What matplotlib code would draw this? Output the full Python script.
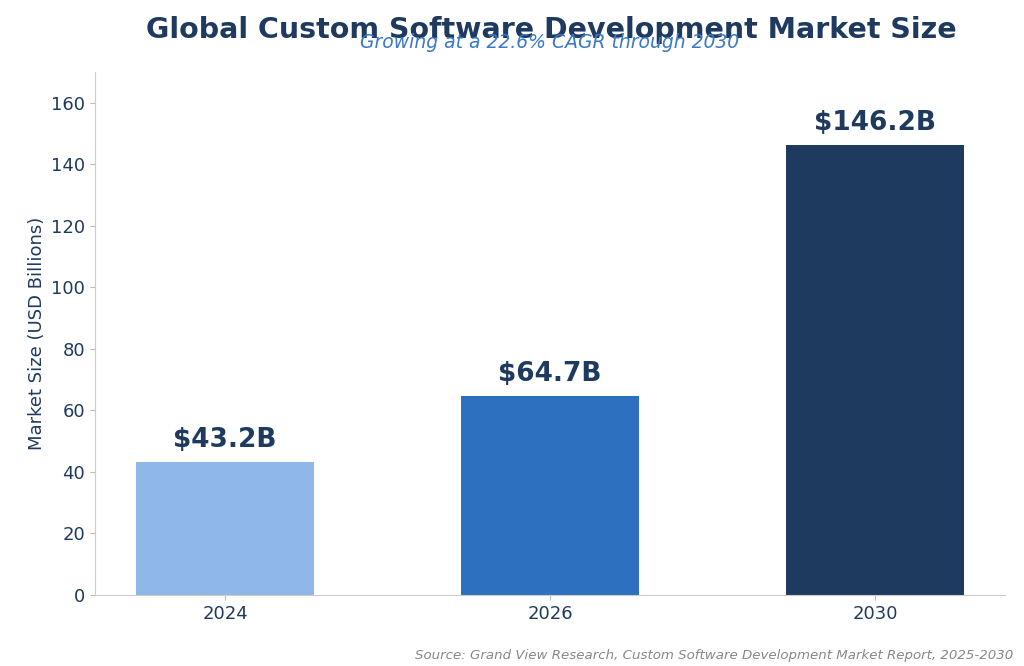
import matplotlib
matplotlib.use("Agg")
import matplotlib.pyplot as plt

years = ["2024", "2026", "2030"]
market_size = [43.2, 64.7, 146.2]
bar_colors = ["#8fb7e8", "#2e70c0", "#1e3a5f"]

navy = "#1f3a5f"

fig = plt.figure(figsize=(10.24, 6.66), dpi=100)
ax = fig.add_axes([95 / 1024, 1 - 595 / 666, 910 / 1024, 523 / 666])

x = range(len(years))
bars = ax.bar(x, market_size, width=0.55, color=bar_colors)
for b, v in zip(bars, market_size):
    ax.text(b.get_x() + b.get_width() / 2, v + 3, f"${v}B", ha="center", va="bottom",
            fontsize=19, fontweight="bold", color=navy)

ax.set_xticks(list(x))
ax.set_xticklabels(years)
ax.set_xlim(-0.4, 2.4)
ax.set_ylim(0, 170)
ax.set_yticks(range(0, 161, 20))
ax.tick_params(colors=navy, labelsize=13)
ax.tick_params(axis="both", color="#bbbbbb")
ax.set_ylabel("Market Size (USD Billions)", fontsize=13, color=navy)
for s in ["top", "right"]:
    ax.spines[s].set_visible(False)
for s in ["left", "bottom"]:
    ax.spines[s].set_color("#cccccc")

fig.text(551 / 1024, 1 - 30 / 666, "Global Custom Software Development Market Size",
         ha="center", va="center", fontsize=20.5, fontweight="bold", color=navy)
fig.text(550 / 1024, 1 - 42 / 666, "Growing at a 22.6% CAGR through 2030",
         ha="center", va="center", fontsize=13.5, style="italic", color="#3a78c8")
fig.text(1013 / 1024, 1 - 655 / 666,
         "Source: Grand View Research, Custom Software Development Market Report, 2025-2030",
         ha="right", va="center", fontsize=9.6, style="italic", color="#888888")

fig.savefig("out.png", dpi=100)
